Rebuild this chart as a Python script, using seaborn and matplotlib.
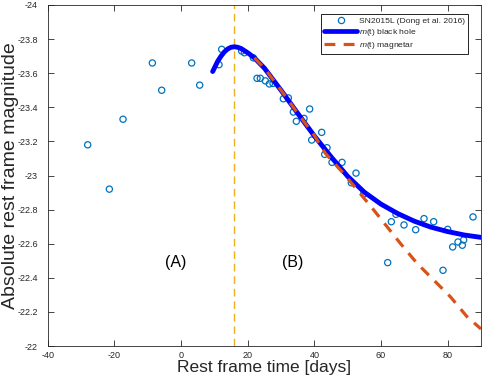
import numpy as np
import pandas as pd
import matplotlib
matplotlib.use("Agg")
import matplotlib.pyplot as plt
import seaborn as sns
from matplotlib.lines import Line2D

# ---- data ----
obs_days = [-28.0, -21.5, -17.4, -8.6, -5.8, 3.2, 5.6, 11.4, 12.2, 18.2, 19.0,
            21.7, 22.8, 23.8, 25.3, 26.5, 27.6, 30.7, 32.2, 33.7, 34.6, 36.9,
            38.6, 39.2, 42.2, 43.1, 43.8, 45.3, 48.3, 51.1, 52.5, 54.8, 62.0,
            63.1, 64.5, 66.9, 70.4, 72.9, 75.8, 78.6, 80.0, 81.5, 83.1, 84.4,
            84.8, 87.6]
obs_mag = [-23.18, -22.92, -23.33, -23.66, -23.50, -23.66, -23.53, -23.65, -23.74,
           -23.73, -23.72, -23.69, -23.57, -23.57, -23.555, -23.537, -23.54, -23.45,
           -23.455, -23.372, -23.318, -23.335, -23.39, -23.208, -23.253, -23.124,
           -23.163, -23.077, -23.077, -22.957, -23.014, -22.892, -22.489, -22.729,
           -22.772, -22.71, -22.682, -22.747, -22.729, -22.444, -22.684, -22.581,
           -22.61, -22.591, -22.622, -22.757]

bh_days = [9.5, 11, 12, 13, 14, 15, 16, 17, 18, 20, 22, 25, 30, 35, 40, 45, 50,
           55, 60, 65, 70, 75, 80, 85, 90]
bh_mag = [-23.61, -23.67, -23.70, -23.725, -23.742, -23.752, -23.755, -23.752,
          -23.745, -23.72, -23.69, -23.63, -23.50, -23.365, -23.232, -23.11, -22.995,
          -22.902, -22.832, -22.777, -22.732, -22.697, -22.671, -22.651, -22.637]

mag_days = [22, 25, 30, 35, 40, 43.3, 48.3, 53.3, 57.8, 61.8, 65.8, 70.8, 75.8,
            80.8, 85.8, 90]
mag_mag = [-23.69, -23.63, -23.50, -23.365, -23.235, -23.13, -23.022, -22.905,
           -22.798, -22.70, -22.602, -22.485, -22.387, -22.289, -22.172, -22.10]

peak_day = 16.0
xticks = [-40, -20, 0, 20, 40, 60, 80]
yticks = [-24, -23.8, -23.6, -23.4, -23.2, -23, -22.8, -22.6, -22.4, -22.2, -22]
ytick_labels = ["-24", "-23.8", "-23.6", "-23.4", "-23.2", "-23", "-22.8",
                "-22.6", "-22.4", "-22.2", "-22"]
legend_labels = ["SN2015L (Dong et al. 2016)", "$m$(t) black hole", "$m$(t) magnetar"]
region_labels = ["(A)", "(B)"]
region_x = [-1.5, 33.4]
region_y = [-22.49, -22.49]

# ---- style ----
sns.set_style("ticks")
plt.rcParams["font.family"] = ["Liberation Sans", "DejaVu Sans"]
plt.rcParams["mathtext.fontset"] = "custom"
plt.rcParams["mathtext.it"] = "Liberation Sans:italic"
plt.rcParams["mathtext.rm"] = "Liberation Sans"

C_DATA = "#0072BD"
C_BH = "#0000FF"
C_MAG = "#D95319"
C_VL = "#EDB120"
AX_C = "#262626"

fig = plt.figure(figsize=(4.83, 3.81), dpi=100)
ax = fig.add_axes([47.7 / 483, 1 - 346 / 381, (481 - 47.7) / 483, (346 - 5) / 381])

obs = pd.DataFrame({"day": obs_days, "mag": obs_mag})
bh = pd.DataFrame({"day": bh_days, "mag": bh_mag})
mg = pd.DataFrame({"day": mag_days, "mag": mag_mag})

ax.axvline(peak_day, color=C_VL, lw=1.0, dashes=(5.5, 3.5), zorder=1)

sns.scatterplot(data=obs, x="day", y="mag", ax=ax, marker="o", s=20,
                facecolor="none", edgecolor=C_DATA, linewidth=0.9, zorder=2)
sns.lineplot(data=bh, x="day", y="mag", ax=ax, color=C_BH, lw=3.5,
             sort=False, estimator=None, zorder=3)
sns.lineplot(data=mg, x="day", y="mag", ax=ax, color=C_MAG, lw=2.3,
             sort=False, estimator=None, zorder=4)
ax.lines[-1].set_dashes((3.4, 2.6))

ax.set_xlim(-40, 90)
ax.set_ylim(-22, -24)
ax.set_xticks(xticks)
ax.set_xticklabels([str(t) for t in xticks])
ax.set_yticks(yticks)
ax.set_yticklabels(ytick_labels)
ax.tick_params(direction="in", top=True, right=True, length=4, width=0.6,
               labelsize=6.5, colors=AX_C)
ax.tick_params(axis="x", pad=3.5)
ax.tick_params(axis="y", pad=7)
for s in ax.spines.values():
    s.set_color(AX_C)
    s.set_linewidth(0.6)

ax.set_xlabel("Rest frame time [days]", fontsize=12.5, color=AX_C, labelpad=0)
ax.set_ylabel("Absolute rest frame magnitude", fontsize=14, color=AX_C, labelpad=-1)

for t, x, y in zip(region_labels, region_x, region_y):
    ax.text(x, y, t, fontsize=11.5, ha="center", va="center", color="black")

handles = [
    Line2D([], [], ls="none", marker="o", markersize=4.5, markerfacecolor="none",
           markeredgecolor=C_DATA, markeredgewidth=0.9),
    Line2D([], [], color=C_BH, lw=3.4),
    Line2D([], [], color=C_MAG, lw=2.3, dashes=(3.4, 2.6)),
]
leg = ax.legend(handles, legend_labels, loc="upper right",
                bbox_to_anchor=((468 - 47.7) / 433.3, (346 - 14) / 341),
                fontsize=6.1, frameon=True, fancybox=False, framealpha=1,
                edgecolor="black", borderpad=0.35, labelspacing=0.22,
                handlelength=3.9, handletextpad=0.2, borderaxespad=0.0)
leg.get_frame().set_linewidth(0.6)

fig.savefig("out.png", dpi=100)
